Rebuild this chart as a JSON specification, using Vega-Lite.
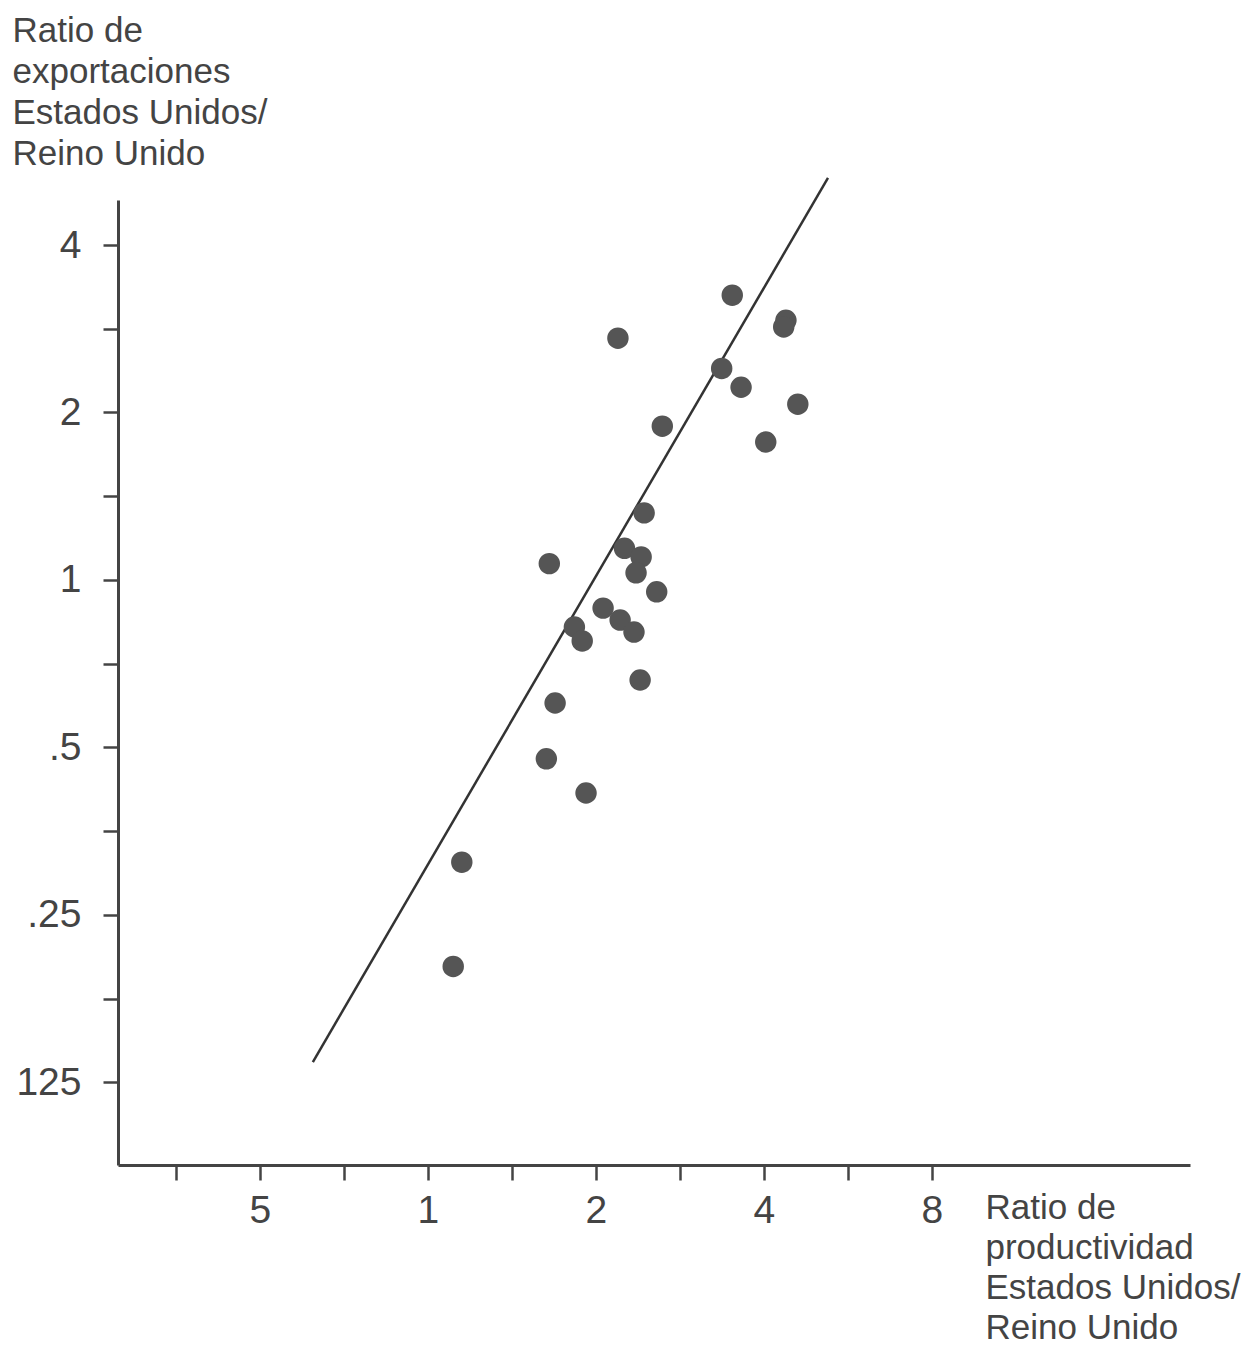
{
  "$schema": "https://vega.github.io/schema/vega-lite/v6.json",
  "autosize": {"type": "none"},
  "width": 1072,
  "height": 965,
  "padding": {"left": 118, "top": 200, "right": 60, "bottom": 184},
  "background": "white",
  "config": {
    "view": {"stroke": null},
    "font": "Liberation Sans",
    "axis": {
      "grid": false,
      "domainColor": "#444",
      "domainWidth": 3,
      "tickColor": "#444",
      "tickWidth": 2.5,
      "tickSize": 15,
      "labelFont": "Liberation Sans",
      "labelFontSize": 39,
      "labelColor": "#444",
      "labelFontWeight": "normal",
      "titleFont": "Liberation Sans",
      "titleFontSize": 35,
      "titleFontWeight": "normal",
      "titleColor": "#444",
      "titleLineHeight": 41,
      "labelOverlap": false
    }
  },
  "datasets": {
    "puntos": [
      {"productividad": 3.51, "exportaciones": 3.25},
      {"productividad": 4.38, "exportaciones": 2.93},
      {"productividad": 4.34, "exportaciones": 2.85},
      {"productividad": 2.19, "exportaciones": 2.72},
      {"productividad": 3.36, "exportaciones": 2.40},
      {"productividad": 3.64, "exportaciones": 2.22},
      {"productividad": 4.60, "exportaciones": 2.07},
      {"productividad": 2.63, "exportaciones": 1.89},
      {"productividad": 4.03, "exportaciones": 1.77},
      {"productividad": 2.44, "exportaciones": 1.32},
      {"productividad": 1.65, "exportaciones": 1.07},
      {"productividad": 2.25, "exportaciones": 1.14},
      {"productividad": 2.41, "exportaciones": 1.10},
      {"productividad": 2.36, "exportaciones": 1.03},
      {"productividad": 2.57, "exportaciones": 0.952},
      {"productividad": 2.06, "exportaciones": 0.890},
      {"productividad": 2.21, "exportaciones": 0.847},
      {"productividad": 1.83, "exportaciones": 0.823},
      {"productividad": 2.34, "exportaciones": 0.806},
      {"productividad": 1.89, "exportaciones": 0.777},
      {"productividad": 2.40, "exportaciones": 0.661},
      {"productividad": 1.69, "exportaciones": 0.601},
      {"productividad": 1.63, "exportaciones": 0.477},
      {"productividad": 1.92, "exportaciones": 0.414},
      {"productividad": 1.15, "exportaciones": 0.311},
      {"productividad": 1.11, "exportaciones": 0.202}
    ],
    "recta": [
      {"productividad": 0.622, "exportaciones": 0.136},
      {"productividad": 5.21, "exportaciones": 5.28}
    ]
  },
  "layer": [
    {
      "data": {"name": "recta"},
      "mark": {"type": "line", "color": "#333", "strokeWidth": 2.5, "clip": false},
      "encoding": {
        "x": {
          "field": "productividad", "type": "quantitative",
          "scale": {"type": "log", "base": 2, "domain": [0.2784, 23.2], "nice": false},
          "axis": {
            "values": [0.35355, 0.5, 0.70711, 1, 1.41421, 2, 2.82843, 4, 5.65685, 8],
            "labelExpr": "datum.value == 0.5 ? '5' : datum.value == 1 ? '1' : datum.value == 2 ? '2' : datum.value == 4 ? '4' : datum.value == 8 ? '8' : ''",
            "labelPadding": 11,
            "title": ["Ratio de", "productividad", "Estados Unidos/", "Reino Unido"],
            "titleAnchor": "start",
            "titleAlign": "left",
            "titleBaseline": "alphabetic",
            "titleLineHeight": 40,
            "titleX": 867,
            "titleY": 53
          }
        },
        "y": {
          "field": "exportaciones", "type": "quantitative",
          "scale": {"type": "log", "base": 2, "domain": [0.0888, 4.819], "nice": false},
          "axis": {
            "values": [0.125, 0.17678, 0.25, 0.35355, 0.5, 0.70711, 1, 1.41421, 2, 2.82843, 4],
            "labelExpr": "datum.value == 4 ? '4' : datum.value == 2 ? '2' : datum.value == 1 ? '1' : datum.value == 0.5 ? '.5' : datum.value == 0.25 ? '.25' : datum.value == 0.125 ? '125' : ''",
            "labelPadding": 22,
            "title": ["Ratio de", "exportaciones", "Estados Unidos/", "Reino Unido"],
            "titleAngle": 0,
            "titleAnchor": "start",
            "titleAlign": "left",
            "titleBaseline": "alphabetic",
            "titleX": -106,
            "titleY": -159
          }
        }
      }
    },
    {
      "data": {"name": "puntos"},
      "mark": {"type": "circle", "color": "#555", "opacity": 1, "size": 460},
      "encoding": {
        "x": {"field": "productividad", "type": "quantitative"},
        "y": {"field": "exportaciones", "type": "quantitative"}
      }
    }
  ]
}
